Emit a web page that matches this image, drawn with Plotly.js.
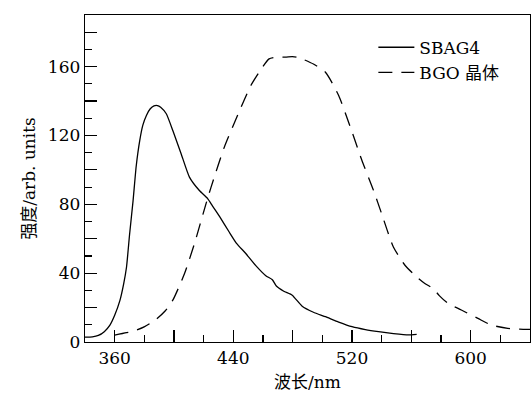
<!DOCTYPE html>
<html><head><meta charset="utf-8">
<script src="https://cdn.plot.ly/plotly-3.0.1.min.js"></script>
<style>html,body{margin:0;padding:0;background:#fff;}#chart{width:531px;height:399px;}</style>
</head><body><div id="chart"></div>
<script>
const sbagWavelength = [340, 345, 349, 353, 356.8, 360, 363.5, 366, 368, 370, 372.4, 374.5, 376.9, 379, 381.4, 384, 386.5, 388.8, 391, 394.8, 399.2, 404.8, 410.4, 417.1, 422.7, 426, 431, 437.2, 442, 448.4, 455, 461.9, 466.3, 469, 474, 479.7, 486.4, 494, 502.1, 511, 520, 529, 537.9, 548, 558, 563.6];
const sbagIntensity  = [2.8, 3.0, 3.8, 6.0, 9.8, 15.5, 24.0, 33.5, 43.6, 62, 82, 102, 117, 126, 131.6, 135.5, 137.2, 137.4, 136.4, 132.6, 122.9, 109.4, 95.8, 88.0, 83.3, 79.0, 72.5, 63.9, 57.5, 51.4, 44.5, 38.5, 36.2, 32.5, 29.5, 27.2, 20.8, 17.3, 14.7, 11.6, 8.9, 7.2, 6.0, 4.9, 4.1, 4.4];
const bgoWavelength = [360, 368, 375, 380.2, 388.1, 394, 399.2, 407.1, 413.8, 421.6, 425, 433.9, 442.8, 451.8, 459.6, 464.1, 470, 475, 479.7, 483, 486.4, 494, 502.1, 511, 518.9, 526.7, 534.5, 540, 547.9, 555.7, 563.5, 569.1, 574.7, 579, 584.8, 593.7, 604.9, 613.8, 625, 632.9, 640];
const bgoIntensity  = [4.0, 5.4, 7.0, 8.9, 13.3, 18.0, 24.3, 39.8, 57.2, 80.4, 90.0, 113.2, 131.6, 149.0, 159.6, 164.5, 165.6, 165.5, 165.8, 165.5, 164.5, 161.5, 156.7, 143.2, 124.8, 105.5, 88.1, 74.5, 55.2, 44.6, 37.9, 34.0, 31.1, 26.8, 22.4, 18.6, 13.7, 9.9, 7.9, 7.5, 7.3];
const seriesNames = ["SBAG4", "BGO 晶体"];
const xTickVals = [360, 400, 440, 480, 520, 560, 600];
const xTickText = ["360", "", "440", "", "520", "", "600"];
const yTickVals = [0, 20, 40, 60, 80, 100, 120, 140, 160, 180];
const yTickText = ["0", "", "40", "", "80", "", "120", "", "160", ""];
const xTitle = "波长/nm";
const yTitle = "强度/arb. units";

const fontFam = "DejaVu Serif, Noto Sans CJK SC, serif";
const data = [
  {x: sbagWavelength, y: sbagIntensity, name: seriesNames[0], type: "scatter", mode: "lines",
   line: {color: "#000", width: 1.3, shape: "spline", smoothing: 0.5}},
  {x: bgoWavelength, y: bgoIntensity, name: seriesNames[1], type: "scatter", mode: "lines",
   line: {color: "#000", width: 1.3, dash: "14px,9px", shape: "spline", smoothing: 0.6}}
];
const axisCommon = {
  showline: true, linecolor: "#000", linewidth: 1.3, mirror: true,
  ticks: "inside", tickcolor: "#000", tickwidth: 1.2, ticklen: 12,
  showgrid: false, zeroline: false,
  tickfont: {family: fontFam, size: 17, color: "#000"},
  title: {font: {family: fontFam, size: 17, color: "#000"}},
  minor: {ticks: "inside", ticklen: 7, tickwidth: 1.2, tickcolor: "#000", showgrid: false}
};
const layout = {
  width: 531, height: 399,
  margin: {l: 85, r: 1, t: 15, b: 57},
  paper_bgcolor: "#fff", plot_bgcolor: "#fff",
  showlegend: true,
  legend: {x: 0.648, y: 0.955, xanchor: "left", yanchor: "top", bgcolor: "rgba(0,0,0,0)",
           borderwidth: 0, itemwidth: 36, font: {family: fontFam, size: 17, color: "#000"}, tracegroupgap: 0},
  xaxis: Object.assign({}, axisCommon, {
    range: [340, 640], tickmode: "array", tickvals: xTickVals, ticktext: xTickText,
    minor: Object.assign({}, axisCommon.minor, {dtick: 20, tick0: 340}),
    title: {text: xTitle, standoff: 9, font: axisCommon.title.font}
  }),
  yaxis: Object.assign({}, axisCommon, {
    range: [0, 190], tickmode: "array", tickvals: yTickVals, ticktext: yTickText,
    minor: Object.assign({}, axisCommon.minor, {dtick: 10, tick0: 0}),
    title: {text: yTitle, standoff: 8, font: axisCommon.title.font}
  })
};
Plotly.newPlot("chart", data, layout, {displayModeBar: false, staticPlot: true});
</script></body></html>
